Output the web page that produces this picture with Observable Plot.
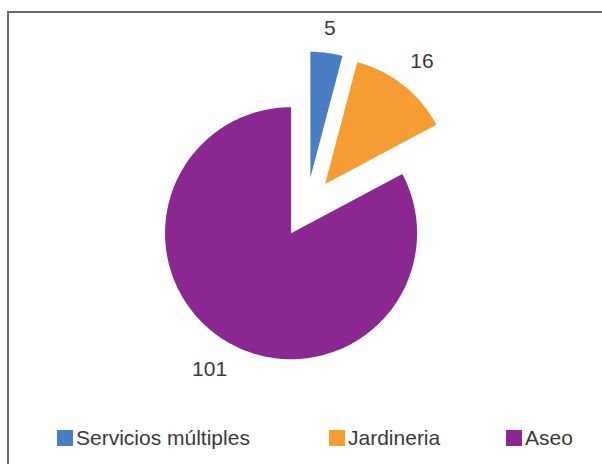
<!DOCTYPE html>
<html>
<head>
<meta charset="utf-8">
<script src="https://cdn.jsdelivr.net/npm/d3@7"></script>
<script src="https://cdn.jsdelivr.net/npm/@observablehq/plot@0.6"></script>
<style>
  html, body { margin: 0; padding: 0; background: #fff; overflow: hidden; width: 602px; height: 464px; }
  #frame { position: absolute; left: 7px; top: 11px; width: 640px; height: 500px;
           border-top: 2px solid #6a6a6a; border-left: 2px solid #6a6a6a; }
  #chart { position: absolute; left: 0; top: 0; }
  #legend { position: absolute; left: 0; top: 420px; width: 602px; height: 44px;
            font-family: "Liberation Sans", Arial, sans-serif; font-size: 21px; color: #3a3a3a; }
  .item { position: absolute; top: 6px; display: flex; align-items: center; white-space: nowrap; }
  .sw { width: 16px; height: 16px; margin-right: 3px; }
</style>
</head>
<body>
<div id="frame"></div>
<div id="chart"></div>
<div id="legend"></div>
<script>
// ---- data ----
const categories = ["Servicios múltiples", "Jardineria", "Aseo"];
const values = [5, 16, 101];
const colors = ["#4a7ec4", "#f59d33", "#8a2791"];

// ---- layout ----
const W = 602, H = 420;
const cx = 306, cy = 207, R = 126, explode = 30;

const arcs = d3.pie().sort(null).value(d => d.value)(
  categories.map((c, i) => ({ cat: c, value: values[i] }))
);

function slicePoints(a) {
  const mid = (a.startAngle + a.endAngle) / 2;
  const ox = cx + explode * Math.sin(mid), oy = cy - explode * Math.cos(mid);
  const pts = [{ x: ox, y: oy }];
  const n = Math.max(8, Math.ceil((a.endAngle - a.startAngle) / 0.02));
  for (let k = 0; k <= n; k++) {
    const t = a.startAngle + (a.endAngle - a.startAngle) * k / n;
    pts.push({ x: ox + R * Math.sin(t), y: oy - R * Math.cos(t) });
  }
  pts.push({ x: ox, y: oy });
  return pts;
}

// label positions: outside end along bisector
const labels = arcs.map(a => {
  const mid = (a.startAngle + a.endAngle) / 2;
  const txt = String(a.data.value);
  const w = txt.length * 11.5, h = 15;
  const r = R + explode + 17 + Math.abs(Math.sin(mid)) * w / 2 + Math.abs(Math.cos(mid)) * h / 2;
  return { x: cx + r * Math.sin(mid), y: cy - r * Math.cos(mid), text: txt };
});

const marks = arcs.map((a, i) =>
  Plot.line(slicePoints(a), { x: "x", y: "y", fill: colors[i], stroke: "none", curve: "linear" })
);
marks.push(Plot.text(labels, {
  x: "x", y: "y", text: "text", fontSize: 21, fill: "#3a3a3a",
  fontFamily: "Liberation Sans, Arial, sans-serif", textAnchor: "middle", lineAnchor: "middle"
}));

const chart = Plot.plot({
  width: W, height: H,
  margin: 0,
  x: { domain: [0, W], range: [0, W], axis: null },
  y: { domain: [0, H], range: [0, H], axis: null },
  style: { background: "transparent" },
  marks
});
document.getElementById("chart").appendChild(chart);

// ---- legend ----
const legendX = [57, 329, 506];
const legend = document.getElementById("legend");
categories.forEach((c, i) => {
  const it = document.createElement("div");
  it.className = "item";
  it.style.left = legendX[i] + "px";
  const sw = document.createElement("div");
  sw.className = "sw";
  sw.style.background = colors[i];
  const tx = document.createElement("span");
  tx.textContent = c;
  it.appendChild(sw); it.appendChild(tx);
  legend.appendChild(it);
});
</script>
</body>
</html>
